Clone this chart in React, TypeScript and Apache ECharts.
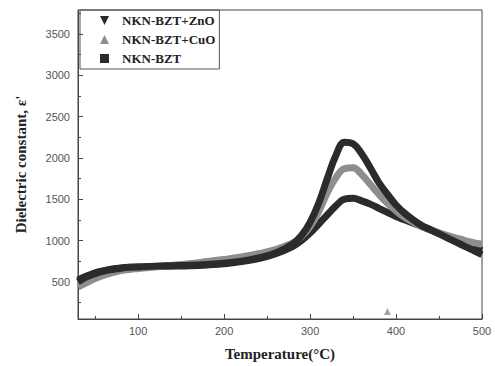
import React, { useEffect, useRef } from "react";
import * as echarts from "echarts";

const temps = [30, 40, 50, 60, 70, 80, 90, 100, 120, 140, 160, 180, 200, 220, 240, 260, 280, 290, 300, 310, 320, 330, 340, 350, 360, 370, 380, 390, 400, 410, 420, 430, 440, 450, 460, 470, 480, 490, 500];

const znoValues = [500, 560, 600, 630, 650, 665, 675, 680, 690, 695, 700, 710, 725, 750, 790, 850, 960, 1060, 1220, 1450, 1750, 2030, 2190, 2170, 2050, 1880, 1700, 1560, 1430, 1330, 1250, 1180, 1130, 1080, 1030, 980, 930, 880, 830];

const cuoValues = [440, 490, 540, 580, 610, 635, 650, 660, 680, 700, 720, 745, 770, 800, 840, 890, 970, 1050, 1170, 1350, 1580, 1760, 1870, 1880, 1800, 1680, 1560, 1450, 1360, 1280, 1220, 1170, 1130, 1090, 1060, 1030, 1000, 975, 955];

const bztValues = [520, 570, 610, 635, 655, 668, 675, 680, 685, 690, 695, 705, 720, 745, 780, 840, 930, 1000, 1090, 1200, 1310, 1420, 1500, 1510, 1480, 1440, 1390, 1340, 1290, 1250, 1210, 1170, 1130, 1090, 1050, 1010, 960, 920, 880];

const cuoStrayPoint = [390, 140];

const xMajorTicks = [100, 200, 300, 400, 500];
const xMinorTicks = [50, 150, 250, 350, 450];
const yMajorTicks = [500, 1000, 1500, 2000, 2500, 3000, 3500];
const yMinorTicks = [250, 750, 1250, 1750, 2250, 2750, 3250, 3750];

const seriesNames = ["NKN-BZT+ZnO", "NKN-BZT+CuO", "NKN-BZT"];

const DARK = "#2b2b2b";
const GRAY = "#8e8e8e";

function zip(xs: number[], ys: number[]) {
  return xs.map((x, i) => [x, ys[i]]);
}

export default function App() {
  const ref = useRef<HTMLDivElement>(null);

  useEffect(() => {
    if (!ref.current) return;
    const chart = echarts.init(ref.current, undefined, { renderer: "svg" });
    const labelStyle = { color: "#555", fontFamily: "Liberation Sans, Arial, sans-serif", fontSize: 11, formatter: (v: number) => String(v) };
    const axisLineStyle = { color: "#444", width: 1 };
    const serif = "Liberation Serif, Times New Roman, serif";
    chart.setOption({
      animation: false,
      backgroundColor: "#fff",
      grid: { left: 78, right: 13, top: 10, bottom: 43, show: true, borderColor: "#444", borderWidth: 1 },
      legend: {
        orient: "vertical",
        left: 80,
        top: 10,
        width: 140,
        padding: [4, 4, 4, 20],
        itemGap: 6,
        itemWidth: 9,
        itemHeight: 9,
        borderColor: "#555",
        borderWidth: 1,
        textStyle: { fontFamily: serif, fontWeight: "bold", fontSize: 13, color: "#222", padding: [0, 0, 0, 8] },
        data: [
          { name: seriesNames[0], icon: "path://M0,0L10,0L5,10Z", itemStyle: { color: DARK } },
          { name: seriesNames[1], icon: "triangle", itemStyle: { color: GRAY } },
          { name: seriesNames[2], icon: "rect", itemStyle: { color: DARK } },
        ],
      },
      xAxis: [
        {
          type: "value",
          min: 30,
          max: 500,
          name: "Temperature(°C)",
          nameLocation: "middle",
          nameGap: 27,
          nameTextStyle: { fontFamily: serif, fontWeight: "bold", fontSize: 15, color: "#222" },
          axisLine: { show: true, lineStyle: axisLineStyle },
          axisTick: { show: true, inside: true, length: 5, customValues: xMajorTicks, lineStyle: axisLineStyle },
          axisLabel: { ...labelStyle, margin: 6, customValues: xMajorTicks },
          splitLine: { show: false },
        },
        {
          type: "value",
          min: 30,
          max: 500,
          position: "bottom",
          axisLine: { show: false },
          axisTick: { show: true, inside: true, length: 3, customValues: xMinorTicks, lineStyle: axisLineStyle },
          axisLabel: { show: false },
          splitLine: { show: false },
        },
      ],
      yAxis: [
        {
          type: "value",
          min: 50,
          max: 3790,
          name: "Dielectric constant, ε'",
          nameLocation: "middle",
          nameGap: 50,
          nameTextStyle: { fontFamily: serif, fontWeight: "bold", fontSize: 15, color: "#222" },
          axisLine: { show: true, lineStyle: axisLineStyle },
          axisTick: { show: true, inside: true, length: 5, customValues: yMajorTicks, lineStyle: axisLineStyle },
          axisLabel: { ...labelStyle, margin: 8, customValues: yMajorTicks },
          splitLine: { show: false },
        },
        {
          type: "value",
          min: 50,
          max: 3790,
          position: "left",
          axisLine: { show: false },
          axisTick: { show: true, inside: true, length: 3, customValues: yMinorTicks, lineStyle: axisLineStyle },
          axisLabel: { show: false },
          splitLine: { show: false },
        },
      ],
      series: [
        {
          name: seriesNames[2],
          type: "line",
          smooth: 0.4,
          showSymbol: false,
          data: zip(temps, bztValues),
          lineStyle: { color: DARK, width: 7 },
          itemStyle: { color: DARK },
        },
        {
          name: seriesNames[1],
          type: "line",
          smooth: 0.4,
          showSymbol: false,
          data: zip(temps, cuoValues),
          lineStyle: { color: GRAY, width: 7 },
          itemStyle: { color: GRAY },
        },
        {
          name: seriesNames[0],
          type: "line",
          smooth: 0.4,
          showSymbol: false,
          data: zip(temps, znoValues),
          lineStyle: { color: DARK, width: 7 },
          itemStyle: { color: DARK },
        },
        {
          name: seriesNames[1],
          type: "scatter",
          symbol: "triangle",
          symbolSize: 7,
          data: [cuoStrayPoint],
          itemStyle: { color: GRAY },
        },
      ],
    });
    return () => chart.dispose();
  }, []);

  return <div ref={ref} style={{ width: 495, height: 366, position: "fixed", left: 0, top: 0 }} />;
}
